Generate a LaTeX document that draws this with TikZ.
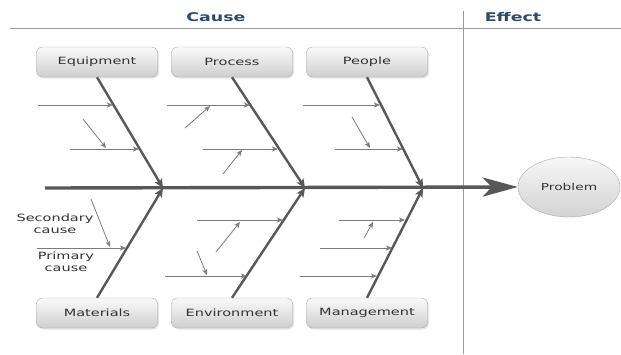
\documentclass[tikz,border=0pt]{standalone}
\usepackage{fontspec}
\setmainfont{DejaVu Sans}
\newfontfamily\lbl[FakeStretch=1.45]{DejaVu Sans}
\usetikzlibrary{arrows.meta,shadows,shapes.geometric,calc}
\definecolor{bonecol}{HTML}{585858}
\definecolor{thincol}{HTML}{7C7C7C}
\definecolor{headcol}{HTML}{2C4A66}
\definecolor{txtcol}{HTML}{333333}
\definecolor{rulecol}{HTML}{9A9A9A}
\tikzset{
  category/.style={draw=gray!65, rounded corners=6pt, minimum width=121pt,
    minimum height=30pt, inner sep=0pt, top color=gray!4, bottom color=gray!38,
    drop shadow={shadow xshift=1.5pt, shadow yshift=-1.5pt, opacity=0.2},
    font=\lbl\fontsize{10}{12}\selectfont, text=txtcol},
  effectnode/.style={ellipse, draw=gray!65, minimum width=102pt, minimum height=60pt,
    inner sep=0pt, top color=gray!6, bottom color=gray!35,
    font=\lbl\fontsize{9.5}{12}\selectfont, text=txtcol},
  spine/.style={draw=bonecol, line width=3.4pt,
    -{Stealth[length=35pt,width=19pt,inset=9pt]}},
  bone/.style={draw=bonecol, line width=2.4pt,
    -{Stealth[length=9pt,width=8pt,inset=2pt]}},
  primary/.style={draw=thincol, line width=0.8pt,
    -{Stealth[length=6pt,width=5pt,inset=1.5pt]}},
  heading/.style={font=\lbl\bfseries\fontsize{12}{14}\selectfont, text=headcol},
  note/.style={font=\lbl\fontsize{10}{11.5}\selectfont, text=txtcol, align=center},
  rule/.style={draw=rulecol, line width=0.8pt}
}
\begin{document}
\begin{tikzpicture}[x=1pt,y=-1pt]
  \useasboundingbox[fill=white] (0,0) rectangle (621,354);

  % header and divider
  \node[heading] (cause) at (216,17) {Cause};
  \node[heading] (effect) at (513,17) {Effect};
  \coordinate (hl) at (10,28);
  \coordinate (hr) at (621,28);
  \coordinate (vt) at (463,11);
  \coordinate (vb) at (463,354);
  \draw[rule] (hl) -- (hr);
  \draw[rule] (vt) -- (vb);

  % category boxes
  \node[category] (equip) at (97,62) {Equipment};
  \node[category] (proc)  at (232,62) {Process};
  \node[category] (people) at (367,62) {People};
  \node[category] (mat)   at (97,313) {Materials};
  \node[category] (env)   at (232,313) {Environment};
  \node[category] (mgmt)  at (367,313) {Management};

  % effect
  \node[effectnode] (prob) at (569,187) {Problem};

  % spine
  \coordinate (tail) at (45,188);
  \coordinate (t1) at (163,188);
  \coordinate (t2) at (305,188);
  \coordinate (t3) at (423,188);
  \draw[spine] (tail) -- (prob.west);

  % main bones
  \draw[bone] (equip.south) -- (t1);
  \draw[bone] (proc.south) -- (t2);
  \draw[bone] (people.south) -- (t3);
  \draw[bone] (mat.north) -- (t1);
  \draw[bone] (env.north) -- (t2);
  \draw[bone] (mgmt.north) -- (t3);

  % primary and secondary causes
  \foreach \n/\sx/\sy/\ex/\ey in {
      ea/38/105/113/105, eb/70/149/139/149, ec/83/119/106/148,
      pa/167/105/250/105, pb/203/149/278/149, pc/185/128/210/106, pd/223/174/242/150,
      qa/303/105/380/105, qb/335/149/403/149, qc/352/117/370/148,
      ma/37/248/126/248, mb/91/199/110/247,
      na/197/220/283/220, nb/165/276/247/276, nc/216/252/240/222, nd/197/251/207/275,
      ga/339/220/405/220, gb/320/248/392/248, gc/300/276/377/276, gd/364/238/373/222}
  {
    \coordinate (\n s) at (\sx,\sy);
    \coordinate (\n e) at (\ex,\ey);
    \draw[primary] (\n s) -- (\n e);
  }

  % legend labels
  \node[note] (seclbl) at (55,224) {Secondary\\cause};
  \node[note] (prilbl) at (66,262) {Primary\\cause};
\end{tikzpicture}
\end{document}
